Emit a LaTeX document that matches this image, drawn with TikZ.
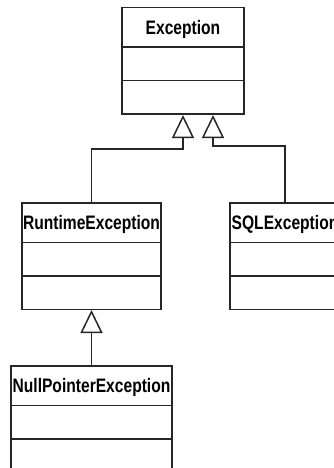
\documentclass[tikz,border=0pt]{standalone}
\usepackage{fontspec}
\newfontfamily\umlfont[FakeStretch=0.8]{Liberation Sans}
\usepackage{tikz}
\usepackage{xcolor}
\usetikzlibrary{calc}
\usetikzlibrary{arrows.meta}
\usetikzlibrary{shapes.multipart}

\begin{document}
\begin{tikzpicture}[x=1pt, y=-1pt]

\tikzset{
    classbox/.style = {
    rectangle split,
    rectangle split parts=3,
    rectangle split empty part height=32pt,
    rectangle split empty part depth=0pt,
    inner xsep=0pt,
    inner ysep=0pt,
    anchor=north
    }
}

\tikzstyle{umlclass}=[draw=black!85, line width=1.5pt, classbox, font=\umlfont\bfseries\fontsize{19.5}{19.5}\selectfont]
\tikzstyle{heritage}=[draw=black!85, line width=1.5pt, -{Triangle[open, length=23pt, width=22pt]}]

\clip (0,0) rectangle (334,468);

\node (exc) [umlclass, minimum width=122pt] at (183,7) {\rule[-12pt]{0pt}{38pt}Exception\nodepart{two}\nodepart{three}};

\node (rt) [umlclass, minimum width=139pt] at (91.5,202) {\rule[-12pt]{0pt}{38pt}RuntimeException\nodepart{two}\nodepart{three}};

\node (sql) [umlclass, minimum width=110pt] at (285,202) {\rule[-12pt]{0pt}{38pt}SQLException\nodepart{two}\nodepart{three}};

\node (npe) [umlclass, minimum width=161pt] at (91.5,365) {\rule[-12pt]{0pt}{38pt}NullPointerException\nodepart{two}\nodepart{three}};

% generalisations
\coordinate (j1) at ([yshift=-34pt]exc.south);
\coordinate (j2) at ([xshift=30pt, yshift=-31pt]exc.south);

\draw[heritage] (rt.north) |- (j1) -- (exc.south);
\draw[heritage] (sql.north) |- (j2) -- (j2 |- exc.south);
\draw[heritage] (npe.north) -- (rt.south);

\end{tikzpicture}
\end{document}
